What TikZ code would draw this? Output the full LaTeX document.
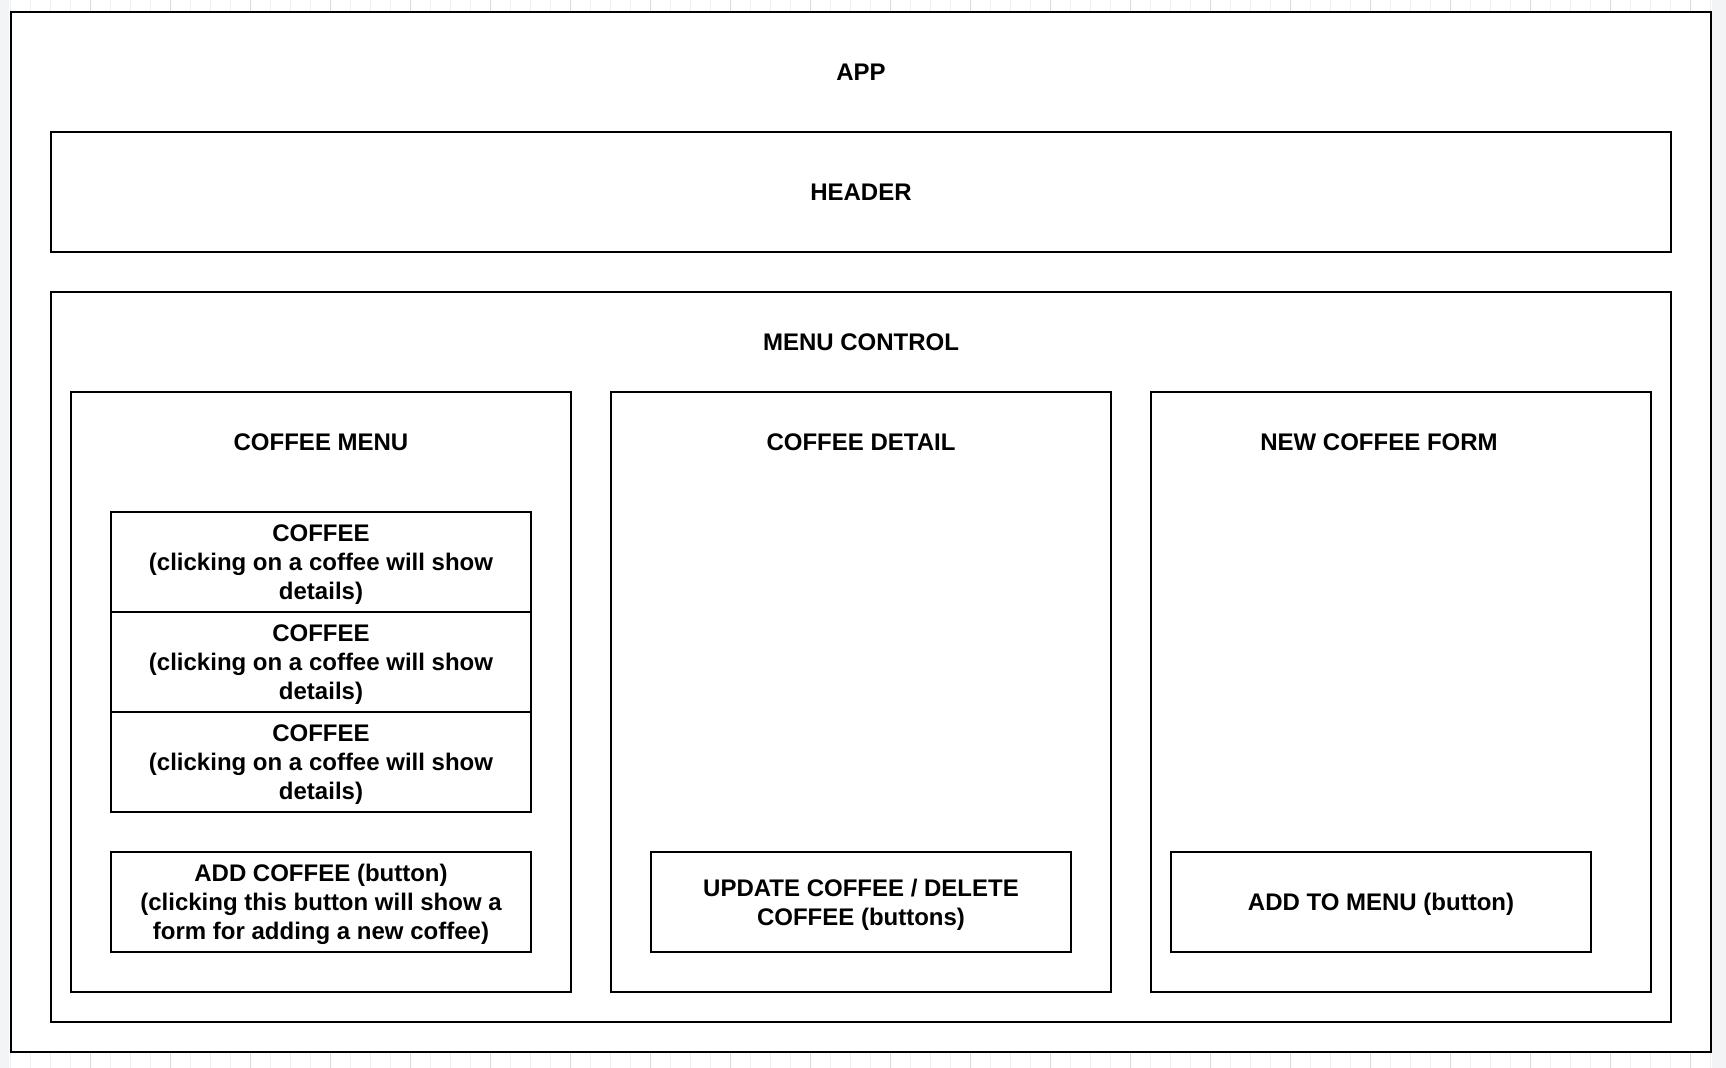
\documentclass[tikz,border=0pt]{standalone}
\usepackage{fontspec}
\setmainfont{Liberation Sans}
\usetikzlibrary{positioning}
\definecolor{gridminor}{HTML}{EFEFEF}
\definecolor{gridmajor}{HTML}{DADADA}
\definecolor{canvasedge}{HTML}{F3F4F6}
\tikzset{
    gridline/.style={line width=0.5pt, draw=gridminor},
    frame/.style={draw, line width=1pt, fill=white, inner sep=0pt, outer sep=0pt, anchor=north west, align=center},
    panel/.style={frame, minimum width=250pt, minimum height=300pt},
    item/.style={frame, minimum width=210pt, minimum height=50pt, text depth=0pt},
    title/.style={inner sep=0pt},
}

\begin{document}
\begin{tikzpicture}[x=0.5pt, y=-0.5pt, font=\fontsize{12}{14.4}\selectfont\bfseries]
    \useasboundingbox (0,0) rectangle (1726,1068);
    \fill[white] (0,0) rectangle (1726,1068);
    \foreach \x in {10,30,...,1710} \draw[gridline] (\x,0) -- (\x,1068);
    \foreach \x in {90,170,...,1690} \draw[gridline, draw=gridmajor] (\x,0) -- (\x,1068);
    \fill[canvasedge] (0,0) rectangle (9,1068);
    \fill[canvasedge] (1712,0) rectangle (1726,1068);

    \node[frame, minimum width=850pt, minimum height=520pt] (app) at (11,12) {};
    \node[title] (apptitle) at (861,72) {APP};

    \node[frame, minimum width=810pt, minimum height=60pt] (header) at (51,132) {HEADER};

    \node[frame, minimum width=810pt, minimum height=365pt] (menucontrol) at (51,292) {};
    \node[title] (menutitle) at (861,342) {MENU CONTROL};

    \node[panel] (coffeemenu) at (71,392) {};
    \node[panel, right=20pt of coffeemenu] (coffeedetail) {};
    \node[panel, right=20pt of coffeedetail] (newform) {};

    \node[title, yshift=-25pt] (coffeemenutitle) at (coffeemenu.north) {COFFEE MENU};
    \node[title, yshift=-25pt] (coffeedetailtitle) at (coffeedetail.north) {COFFEE DETAIL};
    \node[title, yshift=-25pt, xshift=-11pt] (newformtitle) at (newform.north) {NEW COFFEE FORM};

    \node[item] (coffee1) at (111,512) {COFFEE\\(clicking on a coffee will show\\details)};
    \node[item, below=0pt of coffee1] (coffee2) {COFFEE\\(clicking on a coffee will show\\details)};
    \node[item, below=0pt of coffee2] (coffee3) {COFFEE\\(clicking on a coffee will show\\details)};

    \node[item] (addcoffee) at (111,852) {ADD COFFEE (button)\\(clicking this button will show a\\form for adding a new coffee)};
    \node[item] (updatedelete) at (651,852) {UPDATE COFFEE / DELETE\\COFFEE (buttons)};
    \node[item] (addtomenu) at (1171,852) {ADD TO MENU (button)};
\end{tikzpicture}
\end{document}
